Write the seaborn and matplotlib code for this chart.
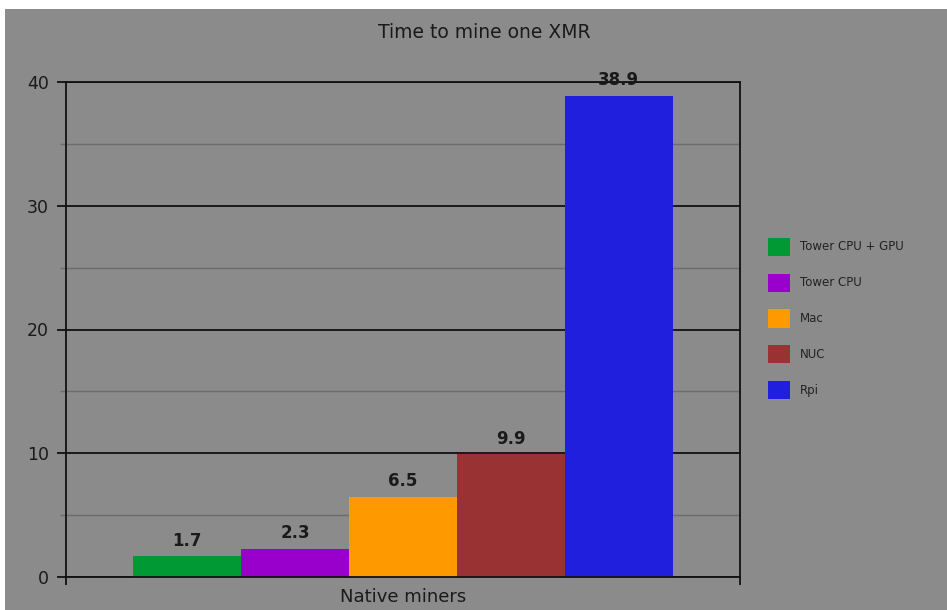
import matplotlib
matplotlib.use("Agg")
import matplotlib.pyplot as plt
from matplotlib.patches import Rectangle
from matplotlib.ticker import MultipleLocator
import seaborn as sns
import pandas as pd

# Data
categories = ["Native miners"]
devices = ["Tower CPU + GPU", "Tower CPU", "Mac", "NUC", "Rpi"]
hours = [1.7, 2.3, 6.5, 9.9, 38.9]
colors = ["#009933", "#9900cc", "#ff9900", "#993333", "#1f1fdd"]

df = pd.DataFrame({
    "category": categories * len(devices),
    "device": devices,
    "value": hours,
})

sns.set_style("ticks")
plt.rcParams["font.family"] = ["DejaVu Sans"]

BG = "#8b8b8b"
INK = "#1a1a1a"

fig = plt.figure(figsize=(9.47, 6.10), dpi=100, facecolor="white")
fig.patches.append(Rectangle((5 / 947, 0), 1 - 5 / 947, 1 - 9 / 610,
                             transform=fig.transFigure, facecolor=BG,
                             edgecolor="none", zorder=-10))

ax = fig.add_axes([66 / 947, 1 - 577 / 610, (740 - 66) / 947, (577 - 82) / 610])
ax.set_facecolor(BG)

sns.barplot(data=df, x="category", y="value", hue="device",
            hue_order=devices, palette=dict(zip(devices, colors)),
            width=0.8, linewidth=0, saturation=1, ax=ax, legend=True)

ax.set_xlim(-0.5, 0.5)
ax.set_ylim(0, 40)
ax.set_xlabel("")
ax.set_ylabel("")

# Y axis: black major grid every 10, grey minor grid every 5
ax.yaxis.set_major_locator(MultipleLocator(10))
ax.yaxis.set_minor_locator(MultipleLocator(5))
ax.grid(axis="y", which="major", color="#111111", linewidth=1.3, zorder=0)
ax.grid(axis="y", which="minor", color="#6c6c6c", linewidth=1.0, zorder=0)
ax.set_axisbelow(True)
ax.tick_params(axis="y", which="major", length=6.5, width=1.3, color="#111111",
               labelsize=12.5, labelcolor=INK, pad=6)
ax.tick_params(axis="y", which="minor", length=4.5, width=1.0, color="#6c6c6c")

# X axis: category name centred, boundary ticks at both ends
ax.set_xticks([0], labels=categories)
ax.set_xticks([-0.5, 0.5], minor=True)
ax.tick_params(axis="x", which="major", length=0, labelsize=13, labelcolor=INK, pad=8)
ax.tick_params(axis="x", which="minor", length=6, width=1.3, color="#111111")

for side in ["left", "right", "bottom", "top"]:
    ax.spines[side].set_visible(True)
    ax.spines[side].set_color("#111111")
    ax.spines[side].set_linewidth(1.3)

for container in ax.containers:
    ax.bar_label(container, fmt="%.1f", padding=4.5, fontsize=12,
                 fontweight="bold", color=INK)

handles, labels = ax.get_legend_handles_labels()
ax.legend(handles, labels, loc="center left",
          bbox_to_anchor=(768 / 947, 1 - 318.5 / 610),
          bbox_transform=fig.transFigure, frameon=False,
          fontsize=8.5, handlelength=1.86, handleheight=1.97,
          labelspacing=1.52, handletextpad=0.85, borderpad=0,
          borderaxespad=0, labelcolor="#222222")

fig.text(0.511, 1 - 33 / 610, "Time to mine one XMR", ha="center", va="center",
         fontsize=13.5, color=INK)

fig.savefig("out.png", dpi=100, facecolor=fig.get_facecolor())
